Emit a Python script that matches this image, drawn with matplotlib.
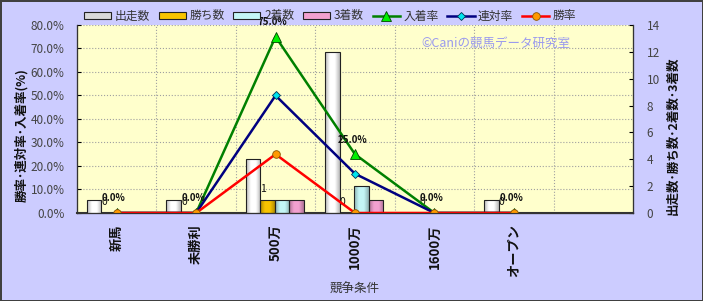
# plot.py
# 競争条件別の出走数・勝ち数・着数（棒）と勝率・連対率・入着率（折れ線）

import matplotlib.pyplot as plt
import numpy as np
from matplotlib.colors import LinearSegmentedColormap, to_rgb
from matplotlib.ticker import FuncFormatter, MultipleLocator

plt.rcParams["font.family"] = ["Noto Sans CJK JP", "DejaVu Sans"]
plt.rcParams["axes.unicode_minus"] = False

categories = ["新馬", "未勝利", "500万", "1000万", "1600万", "オープン", ""]
starts = [1, 1, 4, 12, 0, 1, np.nan]
wins = [0, 0, 1, 0, 0, 0, np.nan]
seconds = [0, 0, 1, 2, 0, 0, np.nan]
thirds = [0, 0, 1, 1, 0, 0, np.nan]

place_rate = [0.0, 0.0, 75.0, 25.0, 0.0, 0.0]
rentai_rate = [0.0, 0.0, 50.0, 16.7, 0.0, 0.0]
win_rate = [0.0, 0.0, 25.0, 0.0, 0.0, 0.0]

BG = "#CCCCFF"
PLOT_BG = "#FFFFCC"


def shade(color, f):
    r, g, b = to_rgb(color)
    return (r * f, g * f, b * f)


def add_gradient(ax, bars, color):
    """Cylinder-like shading inside each bar."""
    cmap = LinearSegmentedColormap.from_list(
        "cyl", [shade(color, 0.72), color, color, shade(color, 0.72)]
    )
    grad = np.linspace(0, 1, 64).reshape(1, -1)
    for b in bars:
        h = b.get_height()
        if not np.isfinite(h) or h <= 0:
            continue
        x0 = b.get_x()
        im = ax.imshow(
            grad,
            cmap=cmap,
            aspect="auto",
            extent=(x0, x0 + b.get_width(), 0, h),
            zorder=b.get_zorder() + 0.1,
            interpolation="bilinear",
        )
        im.set_clip_path(b)
        b.set_facecolor("none")
        b.set_zorder(b.get_zorder() + 0.2)


def main() -> None:
    fig = plt.figure(figsize=(7.03, 3.01), dpi=100)
    fig.patch.set_facecolor(BG)
    fig.patch.set_edgecolor("#404040")
    fig.patch.set_linewidth(2)

    ax = fig.add_axes([0.1095, 0.2924, 0.7909, 0.6246])
    ax2 = ax.twinx()
    ax3 = ax.twinx()
    ax.set_zorder(0)
    ax2.set_zorder(1)
    ax3.set_zorder(2)
    ax.set_facecolor(PLOT_BG)
    ax2.patch.set_visible(False)
    ax3.patch.set_visible(False)

    x = np.arange(len(categories))
    n = len(place_rate)

    # 棒グラフ（右軸）
    w = 0.182
    bar_specs = [
        (starts, "#FFFFFF", "出走数"),
        (wins, "#F8C400", "勝ち数"),
        (seconds, "#C4F6F6", "2着数"),
        (thirds, "#F2A0D0", "3着数"),
    ]
    bar_handles = []
    for i, (vals, color, label) in enumerate(bar_specs):
        h = ax2.bar(
            x + (i - 1.5) * w - 0.01,
            vals,
            width=w,
            color=color,
            edgecolor="#222222",
            linewidth=0.8,
            label=label,
        )
        bar_handles.append(h)

    # 勝ち数のラベル
    for xi, v in zip(x[:n], wins[:n]):
        ax2.annotate(
            f"{v:.0f}",
            (xi - 0.5 * w - 0.01, v),
            xytext=(-3, 4),
            textcoords="offset points",
            ha="center",
            va="bottom",
            fontsize=7.5,
            color="#111111",
        )

    # 折れ線（左軸）
    lp, = ax3.plot(x[:n], place_rate, color="#008000", lw=1.8, marker="^",
                   ms=6.5, mfc="#00EE00", mec="#004400", mew=0.6, label="入着率")
    lr, = ax3.plot(x[:n], rentai_rate, color="#000080", lw=1.8, marker="D",
                   ms=4.5, mfc="#00E5EE", mec="#003355", mew=0.6, label="連対率")
    lw_, = ax3.plot(x[:n], win_rate, color="#FF0000", lw=1.8, marker="o",
                    ms=5.5, mfc="#FF9900", mec="#885500", mew=0.6, label="勝率")

    for xi, v in zip(x[:n], place_rate):
        ax3.annotate(
            f"{v:.1f}%",
            (xi, v),
            xytext=(-2, 7),
            textcoords="offset points",
            ha="center",
            va="bottom",
            fontsize=7,
            fontweight="bold",
            color="#111111",
        )

    ax.set_xlim(-0.5, len(categories) - 0.5)
    ax.set_ylim(0, 80)
    ax2.set_ylim(0, 14)
    ax3.set_ylim(0, 80)

    for bars, (_, color, _) in zip(bar_handles, bar_specs):
        add_gradient(ax2, bars, color)
    ax2.set_xlim(-0.5, len(categories) - 0.5)
    ax2.set_ylim(0, 14)

    ax.yaxis.set_major_locator(MultipleLocator(10))
    ax.yaxis.set_major_formatter(FuncFormatter(lambda v, p: f"{v:.1f}%"))
    ax2.yaxis.set_major_locator(MultipleLocator(2))

    ax.set_xticks(x[:n])
    ax.set_xticklabels(categories[:n], rotation=90, fontsize=9.5,
                       fontweight="bold", color="#111111")
    ax.set_xticks(np.arange(len(categories) - 1) + 0.5, minor=True)
    ax.tick_params(axis="x", which="both", length=0, pad=8)
    ax.grid(True, which="minor", axis="x", color="#A0A0A0", ls=":", lw=0.8)
    ax.grid(True, which="major", axis="y", color="#A0A0A0", ls=":", lw=0.8)

    ax.tick_params(axis="y", direction="in", length=3, labelsize=8.5,
                   labelcolor="#444444", pad=9)
    ax2.tick_params(axis="y", direction="in", length=3, labelsize=8.5,
                    labelcolor="#444444", pad=10)
    ax3.set_yticks([])
    ax3.tick_params(axis="x", length=0)

    for a in (ax, ax2, ax3):
        a.spines["top"].set_visible(False)
        for s in ("left", "right", "bottom"):
            a.spines[s].set_color("#333333")
    ax.spines["bottom"].set_linewidth(1.5)

    fig.text(0.03, 0.55, "勝率･連対率･入着率(%)", rotation=90, ha="center",
             va="center", fontsize=9, fontweight="bold", color="#111111")
    fig.text(0.957, 0.548, "出走数･勝ち数･2着数･3着数", rotation=90, ha="center",
             va="center", fontsize=9, fontweight="bold", color="#111111")
    fig.text(0.505, 0.04, "競争条件", ha="center", va="center", fontsize=9,
             color="#333333")
    fig.text(0.705, 0.857, "©Caniの競馬データ研究室", ha="center", va="center",
             fontsize=9, color="#9999EE")

    handles = bar_handles + [lp, lr, lw_]
    labels = ["出走数", "勝ち数", "2着数", "3着数", "入着率", "連対率", "勝率"]
    leg = fig.legend(
        handles,
        labels,
        loc="center left",
        bbox_to_anchor=(0.104, 0.947),
        ncol=7,
        frameon=False,
        fontsize=8.5,
        handlelength=2.3,
        handleheight=0.55,
        handletextpad=0.3,
        columnspacing=0.75,
        labelcolor="#333333",
    )
    for patch, (_, color, _) in zip(leg.get_patches(), bar_specs):
        patch.set_facecolor(shade(color, 0.85) if color == "#FFFFFF" else color)

    fig.savefig("out.png", dpi=100, facecolor=fig.get_facecolor(),
                edgecolor=fig.get_edgecolor())
    plt.close(fig)


if __name__ == "__main__":
    main()
